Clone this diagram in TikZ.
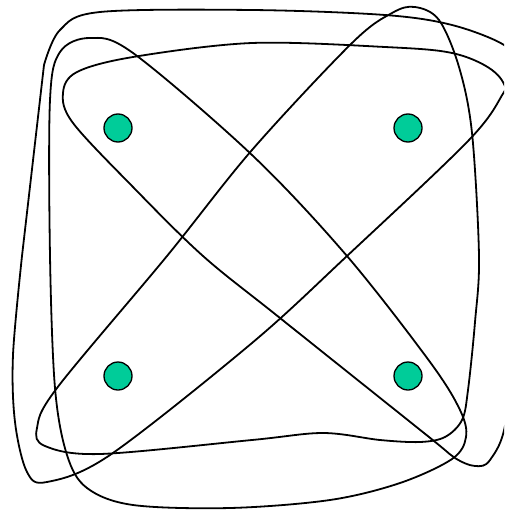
\documentclass[tikz,border=0pt]{standalone}
\definecolor{vertexgreen}{RGB}{0,204,153}
\tikzset{
  vertex/.style={circle, draw, fill=vertexgreen, line width=1.3pt, minimum size=28pt, inner sep=0pt},
  hyperedge/.style={line width=1.8pt, line join=round}
}
\begin{document}
\begin{tikzpicture}[x=1pt, y=-1pt]

  % --- page (the right side of two edges runs past it) ---
  \clip (0,0) rectangle (504,511);

  % --- edge {tl, bl, br} ---
  \draw[hyperedge] plot[smooth cycle, tension=0.55] coordinates {
    (90,38) (133,53) (252,155) (347,256) (430,362) (460,410) (466,437)
    (452,459) (400,483) (330,500) (230,508) (133,505) (87,488) (67,455)
    (55,388) (50,256) (50,100) (60,52)};

  % --- edge {tr, bl, br} ---
  \draw[hyperedge] plot[smooth cycle, tension=0.55] coordinates {
    (415,7) (392,13) (352,43) (252,150) (167,256) (57,388) (37,428)
    (45,446) (100,454) (252,440) (323,433) (380,440) (420,442) (445,437)
    (462,420) (468,390) (475,322) (479,256) (472,133) (459,67) (439,20)};

  % --- edge {tl, tr, bl} (corner at top left) ---
  \draw[hyperedge] plot[smooth, tension=0.55] coordinates {
    (22,256) (13,355) (15,422) (27,472) (47,482) (110,455) (252,343)
    (347,256) (469,140) (504,92) (516,66) (504,45) (452,25) (385,15)
    (252,10) (100,12) (60,30) (44,65)} -- cycle;

  % --- edge {tl, tr, br} ---
  \draw[hyperedge] plot[smooth cycle, tension=0.55] coordinates {
    (63,93) (77,72) (133,57) (252,43) (385,47) (452,53) (492,70)
    (508,95) (514,150) (514,300) (506,420) (490,460) (475,466) (455,458)
    (429,437) (280,318) (203,256) (133,187) (73,123)};

  % --- vertices ---
  \node[vertex] (tl) at (118,128) {};
  \node[vertex] (tr) at (408,128) {};
  \node[vertex] (bl) at (118,376) {};
  \node[vertex] (br) at (408,376) {};

\end{tikzpicture}
\end{document}
